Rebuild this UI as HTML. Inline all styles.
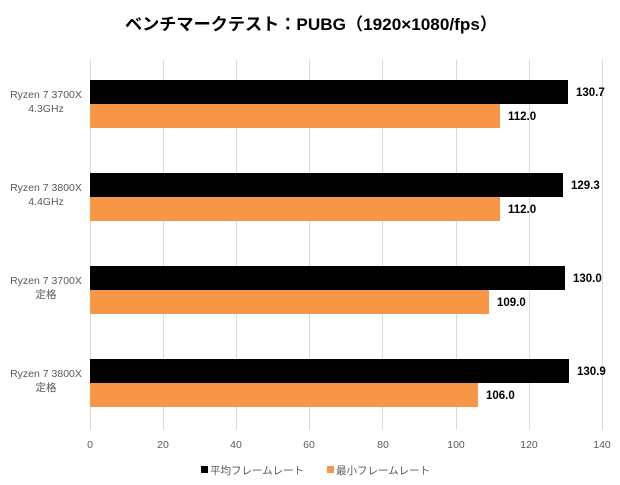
<!DOCTYPE html>
<html><head><meta charset="utf-8"><style>
html,body{margin:0;padding:0;background:#fff;}
svg{display:block;}
text{font-family:"Liberation Sans","Noto Sans CJK JP",sans-serif;}
</style></head><body>
<svg width="620" height="485" viewBox="0 0 620 485" xmlns="http://www.w3.org/2000/svg">
<rect width="620" height="485" fill="#fff"/>
<text x="311" y="30" text-anchor="middle" font-size="17" font-weight="bold" fill="#000" textLength="372" lengthAdjust="spacingAndGlyphs">ベンチマークテスト：PUBG（1920×1080/fps）</text>
<g stroke="#d9d9d9" stroke-width="1">
<line x1="90.5" y1="60" x2="90.5" y2="430"/>
<line x1="163.5" y1="60" x2="163.5" y2="430"/>
<line x1="236.5" y1="60" x2="236.5" y2="430"/>
<line x1="309.5" y1="60" x2="309.5" y2="430"/>
<line x1="382.5" y1="60" x2="382.5" y2="430"/>
<line x1="456.5" y1="60" x2="456.5" y2="430"/>
<line x1="529.5" y1="60" x2="529.5" y2="430"/>
<line x1="602.5" y1="60" x2="602.5" y2="430"/>
</g>
<g>
<rect x="90" y="80" width="478" height="24" fill="#000"/>
<rect x="90" y="104" width="410" height="24" fill="#f79646"/>
<rect x="90" y="173" width="473" height="24" fill="#000"/>
<rect x="90" y="197" width="410" height="24" fill="#f79646"/>
<rect x="90" y="266" width="475" height="24" fill="#000"/>
<rect x="90" y="290" width="399" height="24" fill="#f79646"/>
<rect x="90" y="359" width="479" height="24" fill="#000"/>
<rect x="90" y="383" width="388" height="24" fill="#f79646"/>
</g>
<g font-size="11.5" font-weight="bold" fill="#000">
<text x="576" y="96">130.7</text>
<text x="508" y="120">112.0</text>
<text x="571" y="189">129.3</text>
<text x="508" y="213">112.0</text>
<text x="573" y="282">130.0</text>
<text x="497" y="306">109.0</text>
<text x="577" y="375">130.9</text>
<text x="486" y="399">106.0</text>
</g>
<g font-size="10.5" fill="#595959" text-anchor="middle">
<text x="46" y="98">Ryzen 7 3700X</text><text x="46" y="112">4.3GHz</text>
<text x="46" y="191">Ryzen 7 3800X</text><text x="46" y="205">4.4GHz</text>
<text x="46" y="284">Ryzen 7 3700X</text><text x="46" y="298">定格</text>
<text x="46" y="377">Ryzen 7 3800X</text><text x="46" y="391">定格</text>
</g>
<g font-size="10.5" fill="#595959" text-anchor="middle">
<text x="90" y="448">0</text><text x="163" y="448">20</text><text x="236" y="448">40</text>
<text x="309" y="448">60</text><text x="383" y="448">80</text><text x="456" y="448">100</text>
<text x="529" y="448">120</text><text x="602" y="448">140</text>
</g>
<rect x="201" y="466" width="7" height="7" fill="#000"/>
<text x="210" y="474" font-size="10.5" fill="#595959">平均フレームレート</text>
<rect x="327" y="466" width="7" height="7" fill="#f79646"/>
<text x="336" y="474" font-size="10.5" fill="#595959">最小フレームレート</text>
</svg>
</body></html>
